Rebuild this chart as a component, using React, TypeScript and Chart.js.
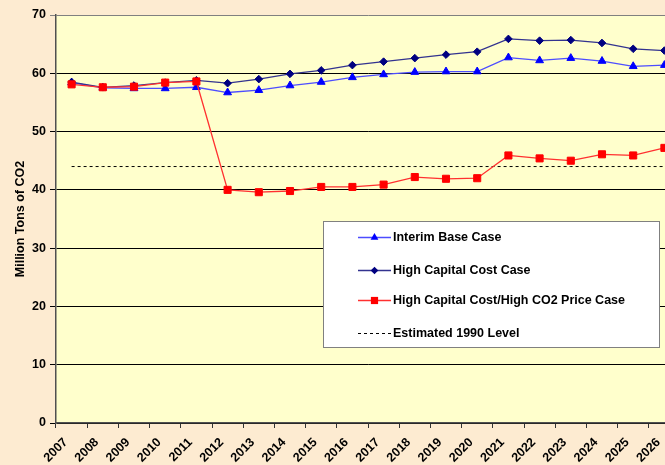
import React, { useEffect, useRef } from "react";
import { Chart, registerables } from "chart.js";

Chart.register(...registerables);

const years = ["2007", "2008", "2009", "2010", "2011", "2012", "2013", "2014", "2015", "2016", "2017", "2018", "2019", "2020", "2021", "2022", "2023", "2024", "2025", "2026"];
const interimBase = [58.4, 57.5, 57.4, 57.4, 57.6, 56.7, 57.1, 57.9, 58.5, 59.3, 59.8, 60.2, 60.3, 60.3, 62.7, 62.2, 62.6, 62.1, 61.2, 61.4];
const highCapital = [58.5, 57.6, 57.9, 58.4, 58.8, 58.3, 59.0, 59.9, 60.5, 61.4, 62.0, 62.6, 63.2, 63.7, 65.9, 65.6, 65.7, 65.2, 64.2, 63.9];
const highCapitalCO2 = [58.1, 57.6, 57.7, 58.4, 58.6, 40.0, 39.6, 39.8, 40.5, 40.5, 40.9, 42.2, 41.9, 42.0, 45.9, 45.4, 45.0, 46.1, 45.9, 47.2];
const level1990 = [44, 44, 44, 44, 44, 44, 44, 44, 44, 44, 44, 44, 44, 44, 44, 44, 44, 44, 44, 44];
const yTicks = [0, 10, 20, 30, 40, 50, 60, 70];

const seriesNames = ["Interim Base Case", "High Capital Cost Case", "High Capital Cost/High CO2 Price Case", "Estimated 1990 Level"];

const PEACH = "#FDEBD1";
const PLOT = "#FFFFCC";
const FONT = { family: "Arial, 'Liberation Sans', sans-serif", size: 12.5, weight: "bold" as const };

const bgPlugin = {
  id: "bg",
  beforeDraw(chart: any) {
    const { ctx, chartArea, width, height } = chart;
    ctx.save();
    ctx.fillStyle = PEACH;
    ctx.fillRect(0, 0, width, height);
    ctx.fillStyle = PLOT;
    ctx.fillRect(chartArea.left, chartArea.top, chartArea.right - chartArea.left, chartArea.bottom - chartArea.top);
    ctx.restore();
  },
};

function drawMarker(ctx: CanvasRenderingContext2D, style: string, x: number, y: number, color: string) {
  ctx.fillStyle = color;
  ctx.beginPath();
  if (style === "triangle") {
    const r = 4.5;
    ctx.moveTo(x, y - r);
    ctx.lineTo(x + r * 0.866, y + r * 0.5);
    ctx.lineTo(x - r * 0.866, y + r * 0.5);
    ctx.closePath();
  } else if (style === "rectRot") {
    const r = 3.8;
    ctx.moveTo(x, y - r);
    ctx.lineTo(x + r, y);
    ctx.lineTo(x, y + r);
    ctx.lineTo(x - r, y);
    ctx.closePath();
  } else if (style === "rect") {
    const s = 3.6;
    ctx.rect(x - s, y - s, 2 * s, 2 * s);
  }
  ctx.fill();
}

const legendPlugin = {
  id: "boxLegend",
  afterDraw(chart: any) {
    const { ctx, chartArea } = chart;
    const x0 = chartArea.left + 267;
    const y0 = chartArea.top + 206;
    const w = 336;
    const h = 126;
    ctx.save();
    ctx.fillStyle = "#FFFFFF";
    ctx.fillRect(x0, y0, w, h);
    ctx.strokeStyle = "#808080";
    ctx.lineWidth = 1;
    ctx.strokeRect(x0 + 0.5, y0 + 0.5, w, h);
    const rowOffsets = [16, 49, 79, 112];
    const ds = chart.data.datasets;
    const legendOrder = [0, 1, 2, 3];
    legendOrder.forEach((idx, row) => {
      const d = ds[idx];
      const y = y0 + rowOffsets[row];
      ctx.save();
      ctx.strokeStyle = d.borderColor;
      ctx.lineWidth = d.borderWidth;
      ctx.setLineDash(d.borderDash || []);
      ctx.beginPath();
      ctx.moveTo(x0 + 35, y + 0.5);
      ctx.lineTo(x0 + 68, y + 0.5);
      ctx.stroke();
      ctx.restore();
      if (d.pointRadius > 0) drawMarker(ctx, d.pointStyle, x0 + 51.5, y + 0.5, d.pointBackgroundColor);
      ctx.fillStyle = "#000";
      ctx.font = `bold ${FONT.size}px ${FONT.family}`;
      ctx.textBaseline = "middle";
      ctx.textAlign = "left";
      ctx.fillText(d.label, x0 + 70, y + 1);
    });
    ctx.restore();
  },
};

export default function App() {
  const ref = useRef<HTMLCanvasElement>(null);
  useEffect(() => {
    if (!ref.current) return;
    const chart = new Chart(ref.current, {
      type: "line",
      data: {
        labels: years,
        datasets: [
          {
            label: seriesNames[0],
            data: interimBase,
            borderColor: "#4D4DFF",
            borderWidth: 1.3,
            pointStyle: "triangle",
            pointRadius: 4.5,
            pointBackgroundColor: "#0000FF",
            pointBorderColor: "#0000FF",
            pointBorderWidth: 1,
            order: 2,
            tension: 0,
          },
          {
            label: seriesNames[1],
            data: highCapital,
            borderColor: "#33338F",
            borderWidth: 1.3,
            pointStyle: "rectRot",
            pointRadius: 3.8,
            pointBackgroundColor: "#000080",
            pointBorderColor: "#000080",
            pointBorderWidth: 1,
            order: 1,
            tension: 0,
          },
          {
            label: seriesNames[2],
            data: highCapitalCO2,
            borderColor: "#FF3030",
            borderWidth: 1.3,
            pointStyle: "rect",
            pointRadius: 5,
            pointBackgroundColor: "#FF0000",
            pointBorderColor: "#FF0000",
            pointBorderWidth: 1,
            order: 0,
            tension: 0,
          },
          {
            label: seriesNames[3],
            data: level1990,
            borderColor: "#000000",
            borderWidth: 1,
            borderDash: [3, 3],
            pointRadius: 0,
            order: 3,
            tension: 0,
          },
        ] as any,
      },
      options: {
        animation: false,
        responsive: false,
        devicePixelRatio: 1,
        layout: { padding: { top: 15, right: 1, left: 0, bottom: 0 } },
        plugins: {
          legend: { display: false },
          tooltip: { enabled: false },
          title: { display: false },
        },
        scales: {
          x: {
            type: "category",
            offset: true,
            grid: { offset: true, drawOnChartArea: false, drawTicks: true, tickLength: 5, color: "#333333" },
            border: { display: true, color: "#505050", width: 1.5 },
            ticks: { maxRotation: 45, minRotation: 45, autoSkip: false, font: FONT, color: "#000", padding: 7, labelOffset: -6 },
            afterFit: (s: any) => {
              s.height = 42;
            },
          },
          y: {
            min: 0,
            max: 70,
            afterBuildTicks: (s: any) => {
              s.ticks = yTicks.map((v) => ({ value: v }));
            },
            ticks: { font: FONT, color: "#000", padding: 4 },
            grid: {
              color: (c: any) => (c.tick && c.tick.value === 70 ? "#808080" : "#000000"),
              tickLength: 6,
              drawTicks: true,
              lineWidth: 1,
            },
            border: { display: true, color: "#505050", width: 1.5 },
            title: {
              display: true,
              text: "Million Tons of CO2",
              font: FONT,
              color: "#000",
              padding: { top: 13, bottom: 0 },
            },
            afterFit: (s: any) => {
              s.width = 56;
            },
          },
        },
      } as any,
      plugins: [bgPlugin, legendPlugin],
    });
    return () => chart.destroy();
  }, []);
  return (
    <div style={{ position: "fixed", left: 0, top: 0, width: 665, height: 465, overflow: "hidden", background: PEACH }}>
      <canvas ref={ref} width={686} height={465} style={{ display: "block" }} />
    </div>
  );
}
